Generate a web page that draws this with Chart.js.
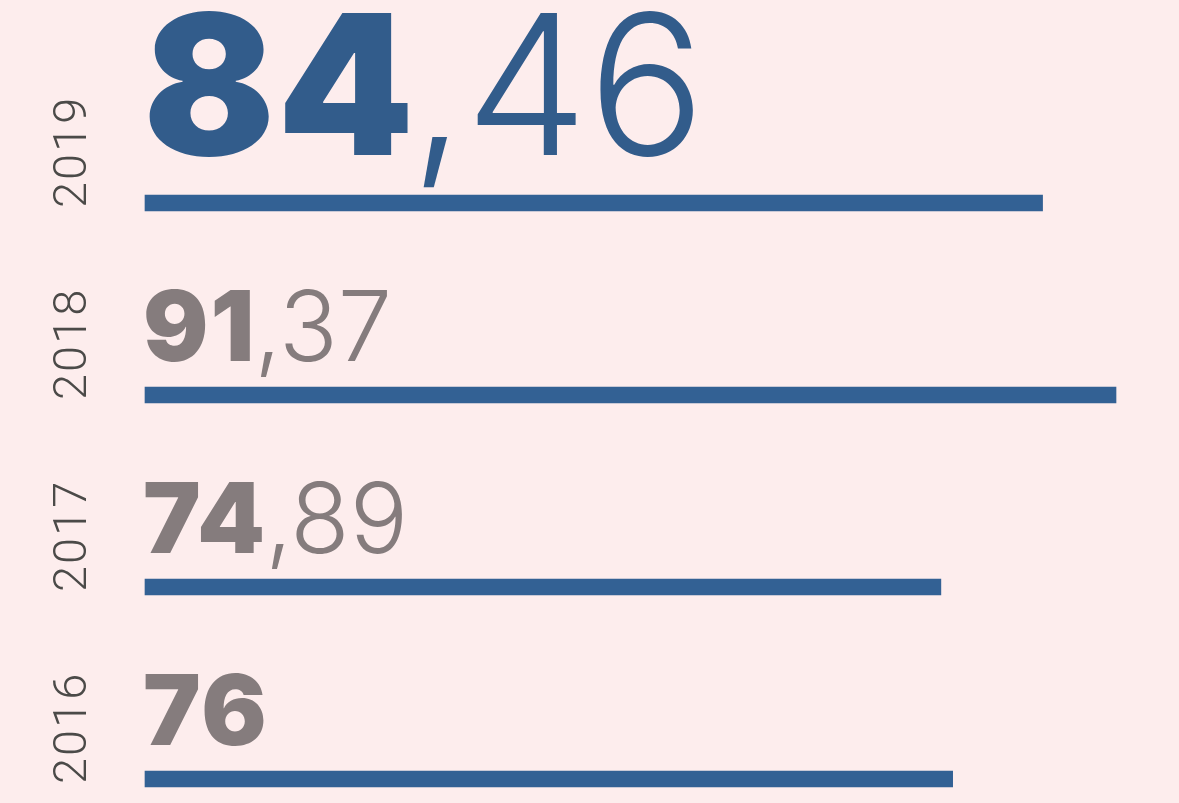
<!DOCTYPE html>
<html>
<head>
<meta charset="utf-8">
<script src="https://cdn.jsdelivr.net/npm/chart.js@4"></script>
<style>
  html, body { margin: 0; padding: 0; background: #fdeded; }
  #wrap { width: 1179px; height: 803px; }
</style>
</head>
<body>
<div id="wrap"><canvas id="yearsChart"></canvas></div>
<script>
// values per year, top to bottom
var years = ['2019', '2018', '2017', '2016'];
var values = [84.46, 91.37, 74.89, 76];
var highlightYear = '2019';

// split "84,46" into the bold whole part and the light decimals
function splitValue(v) {
    var s = v.toLocaleString('de-DE', { maximumFractionDigits: 2 });
    var i = s.indexOf(',');
    return i < 0 ? [s, ''] : [s.slice(0, i), s.slice(i)];
}

var labelsPlugin = {
    id: 'yearLabels',
    afterDatasetsDraw: function (chart) {
        var ctx = chart.ctx;
        var yScale = chart.scales.y;
        var left = chart.chartArea.left;
        ctx.save();
        years.forEach(function (year, i) {
            var y = yScale.getPixelForValue(i);
            var big = year === highlightYear;

            // year, rotated
            ctx.save();
            ctx.translate(86, y + 5);
            ctx.rotate(-Math.PI / 2);
            ctx.font = '300 47px Roboto';
            ctx.letterSpacing = '2px';
            ctx.fillStyle = '#4b4a48';
            ctx.textBaseline = 'alphabetic';
            ctx.textAlign = 'left';
            ctx.fillText(year, 0, 0);
            ctx.restore();

            // value above the bar
            var parts = splitValue(values[i]);
            var size = big ? 195 : 97;
            var base = y - (big ? 48 : 34);
            ctx.fillStyle = big ? '#325c8b' : '#857c7d';
            ctx.textBaseline = 'alphabetic';
            ctx.textAlign = 'left';
            ctx.letterSpacing = big ? '2px' : '2px';
            ctx.font = '900 ' + size + 'px Inter';
            var x = left - 2;
            ctx.fillText(parts[0], x, base);
            x += ctx.measureText(parts[0]).width - (big ? 6 : 2);
            ctx.font = '300 ' + size + 'px Inter';
            ctx.letterSpacing = '0px';
            ctx.fillText(parts[1], x, base);
        });
        ctx.restore();
    }
};

var ctxYears = document.getElementById('yearsChart').getContext('2d');
var yearsChart = new Chart(ctxYears, {
    type: 'bar',
    data: {
        labels: years,
        datasets: [{
            data: values,
            backgroundColor: '#336194',
            barThickness: 16,
            clip: false
        }]
    },
    options: {
        indexAxis: 'y',
        responsive: true,
        maintainAspectRatio: false,
        animation: false,
        layout: { padding: { left: 145, right: 63, top: 203, bottom: 24 } },
        plugins: { legend: { display: false }, tooltip: { enabled: false } },
        scales: {
            x: { display: false, min: 0, max: 91.37 },
            y: { display: false, offset: false }
        }
    },
    plugins: [labelsPlugin]
});
</script>
</body>
</html>
